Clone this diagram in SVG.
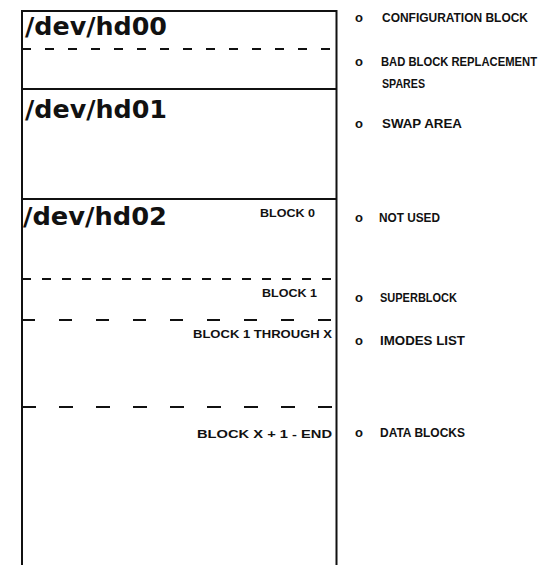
<svg xmlns="http://www.w3.org/2000/svg" width="550" height="565" viewBox="0 0 550 565">
<style>
.frame{fill:none;stroke:#111;stroke-width:2}
.solid{stroke:#111;stroke-width:2}
.dash{stroke:#111;stroke-width:2}
.dev{font-family:"DejaVu Sans",sans-serif;font-weight:bold;font-size:25px;fill:#111}
.lbl{font-family:"Liberation Sans",sans-serif;font-weight:bold;font-size:13px;fill:#111}
.blk{font-family:"Liberation Sans",sans-serif;font-weight:bold;font-size:10px;fill:#111}
</style>
<rect width="550" height="565" fill="#fff"/>
<g id="partitions">
<path class="frame" d="M22,566 V11 H336.5 V566"/>
<line class="solid" x1="22" y1="89" x2="336.5" y2="89"/>
<line class="solid" x1="22" y1="199" x2="336.5" y2="199"/>
<line class="dash" x1="22" y1="49" x2="336.5" y2="49" stroke-dasharray="9,14"/>
<line class="dash" x1="22" y1="279" x2="336.5" y2="279" stroke-dasharray="9,11"/>
<line class="dash" x1="22" y1="320" x2="336.5" y2="320" stroke-dasharray="13,24"/>
<line class="dash" x1="22" y1="407" x2="336.5" y2="407" stroke-dasharray="14,23"/>
</g>
<g id="hd00">
<text class="dev" x="25" y="35" textLength="142" lengthAdjust="spacingAndGlyphs">/dev/hd00</text>
<text class="lbl" x="355" y="22">o</text>
<text class="lbl" x="382" y="22" textLength="146" lengthAdjust="spacingAndGlyphs">CONFIGURATION BLOCK</text>
<text class="lbl" x="355" y="66">o</text>
<text class="lbl" x="381" y="66" style="font-size:12px" textLength="156" lengthAdjust="spacingAndGlyphs">BAD BLOCK REPLACEMENT</text>
<text class="lbl" x="382" y="88" textLength="43" lengthAdjust="spacingAndGlyphs">SPARES</text>
</g>
<g id="hd01">
<text class="dev" x="25" y="118" textLength="142" lengthAdjust="spacingAndGlyphs">/dev/hd01</text>
<text class="lbl" x="355" y="128">o</text>
<text class="lbl" x="382" y="128" textLength="80" lengthAdjust="spacingAndGlyphs">SWAP AREA</text>
</g>
<g id="hd02">
<text class="dev" x="23" y="225" textLength="144" lengthAdjust="spacingAndGlyphs">/dev/hd02</text>
<text class="blk" x="260" y="217" textLength="55" lengthAdjust="spacingAndGlyphs">BLOCK 0</text>
<text class="lbl" x="355" y="222">o</text>
<text class="lbl" x="379" y="222" textLength="61" lengthAdjust="spacingAndGlyphs">NOT USED</text>
<text class="blk" x="262" y="297" textLength="55" lengthAdjust="spacingAndGlyphs">BLOCK 1</text>
<text class="lbl" x="355" y="302">o</text>
<text class="lbl" x="380" y="302" textLength="77" lengthAdjust="spacingAndGlyphs">SUPERBLOCK</text>
<text class="blk" x="193" y="338" textLength="139" lengthAdjust="spacingAndGlyphs">BLOCK 1 THROUGH X</text>
<text class="lbl" x="355" y="345">o</text>
<text class="lbl" x="380" y="345" textLength="85" lengthAdjust="spacingAndGlyphs">IMODES LIST</text>
<text class="blk" x="197" y="438" style="font-size:11px" textLength="135" lengthAdjust="spacingAndGlyphs">BLOCK X + 1 - END</text>
<text class="lbl" x="355" y="437">o</text>
<text class="lbl" x="380" y="437" textLength="85" lengthAdjust="spacingAndGlyphs">DATA BLOCKS</text>
</g>
</svg>
